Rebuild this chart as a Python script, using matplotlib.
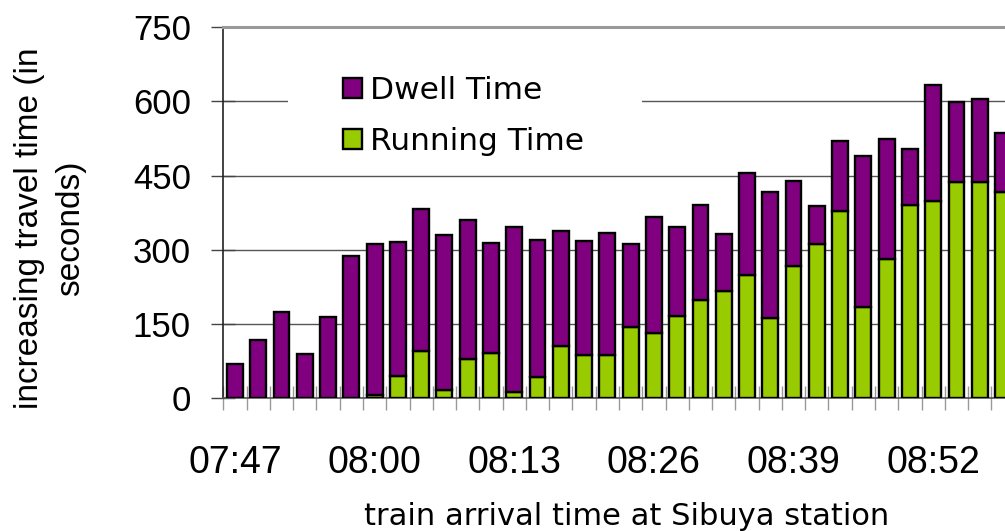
import matplotlib.pyplot as plt
import matplotlib.patches as mpatches
import numpy as np

# Travel time increase per train, split into running and dwell components (seconds)
running_time = [0, 0, 0, 0, 0, 0, 7, 46, 96, 17, 79, 91, 12, 44, 106, 88, 88,
                145, 133, 166, 199, 216, 249, 162, 267, 311, 379, 184, 281, 390,
                399, 438, 438, 418]
dwell_time = [70, 118, 174, 90, 164, 288, 304, 269, 286, 313, 281, 222, 334, 277,
              233, 231, 247, 166, 233, 180, 192, 116, 206, 255, 172, 78, 141, 306,
              243, 113, 234, 160, 168, 118]

tick_positions = [0, 6, 12, 18, 24, 30]
tick_labels = ["07:47", "08:00", "08:13", "08:26", "08:39", "08:52"]
y_ticks = [0, 150, 300, 450, 600, 750]

PURPLE = "#800080"
GREEN = "#99CC00"

W, H = 1005, 531
fig = plt.figure(figsize=(W / 100, H / 100), dpi=100)

# axes run past the right edge of the figure, so the last bars get clipped
left_px, top_px, bottom_px = 223.3, 27.3, 398.3
cat_px = 23.275
n_cats = 36
ax_w = n_cats * cat_px
ax_h = bottom_px - top_px
ax = fig.add_axes([left_px / W, 1 - bottom_px / H, ax_w / W, ax_h / H])

x = np.arange(len(running_time))
ax.bar(x, running_time, width=0.68, color=GREEN, edgecolor="black",
       linewidth=1.7, zorder=3)
ax.bar(x, dwell_time, bottom=running_time, width=0.68, color=PURPLE,
       edgecolor="black", linewidth=1.7, zorder=3)

ax.set_xlim(-0.5, n_cats - 0.5)
ax.set_ylim(0, 750)

# horizontal grid
ax.set_yticks(y_ticks)
ax.yaxis.grid(True, color="#555555", linewidth=1.0, zorder=0)
ax.set_axisbelow(True)
ax.tick_params(axis="y", direction="inout", length=16.8, width=1.0,
               color="#444444", pad=15, labelsize=25)
for lab in ax.get_yticklabels():
    lab.set_fontfamily("Liberation Sans")

# category boundaries as minor ticks, time labels on majors
ax.set_xticks(tick_positions)
ax.set_xticklabels(tick_labels, fontfamily="Liberation Sans", fontsize=27)
ax.set_xticks(np.arange(-0.5, n_cats, 1), minor=True)
ax.tick_params(axis="x", which="major", length=0, pad=33.5)
ax.tick_params(axis="x", which="minor", direction="inout", length=16.8,
               width=1.0, color="#999999")

ax.spines["right"].set_visible(False)
ax.spines["top"].set_color("#999999")
ax.spines["top"].set_linewidth(2.2)
ax.spines["left"].set_color("#222222")
ax.spines["left"].set_linewidth(1.2)
ax.spines["bottom"].set_color("#555555")
ax.spines["bottom"].set_linewidth(1.2)

# white box behind the legend hides the grid line there
box_x0 = (288 - left_px) / ax_w
box_x1 = (642 - left_px) / ax_w
box_y0 = (bottom_px - 168) / ax_h
box_y1 = (bottom_px - 50) / ax_h
ax.add_patch(mpatches.Rectangle((box_x0, box_y0), box_x1 - box_x0, box_y1 - box_y0,
                                transform=ax.transAxes, facecolor="white",
                                edgecolor="none", zorder=1))

handles = [mpatches.Patch(facecolor=PURPLE, edgecolor="black", linewidth=1.7,
                          label="Dwell Time"),
           mpatches.Patch(facecolor=GREEN, edgecolor="black", linewidth=1.7,
                          label="Running Time")]
leg = ax.legend(handles=handles, loc="upper left",
                bbox_to_anchor=((343 - left_px) / ax_w, (bottom_px - 76) / ax_h),
                frameon=False, prop={"family": "DejaVu Sans", "size": 22.5},
                handlelength=0.62, handleheight=0.62, handletextpad=0.25,
                labelspacing=0.7, borderpad=0, borderaxespad=0)
leg.set_zorder(4)

fig.text(50 / W, 1 - 228 / H, "increasing travel time (in\nseconds)",
         rotation=90, ha="center", va="center", multialignment="center",
         fontfamily="Liberation Sans", fontsize=24, linespacing=1.39)
fig.text(627 / W, 1 - 525 / H, "train arrival time at Sibuya station",
         ha="center", va="baseline", fontfamily="DejaVu Sans", fontsize=22)

fig.savefig("out.png", dpi=100)
